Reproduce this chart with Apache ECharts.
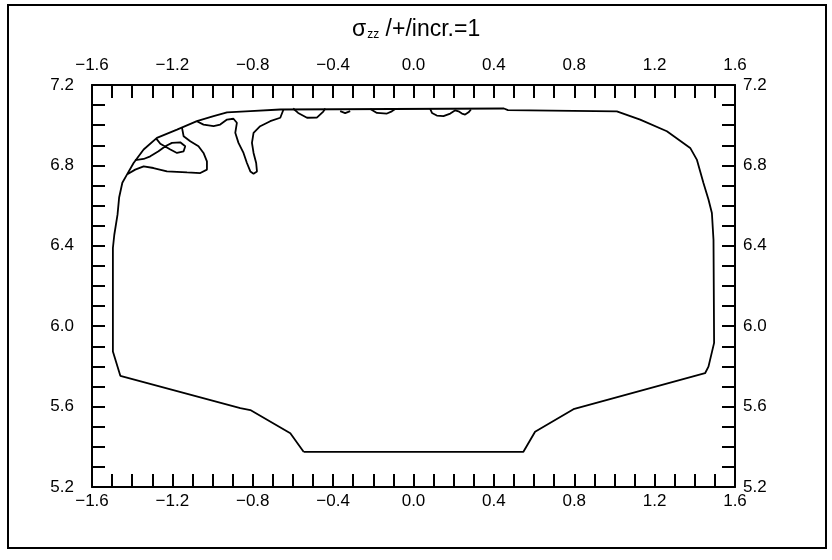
<!DOCTYPE html>
<html>
<head>
<meta charset="utf-8">
<script src="https://cdn.jsdelivr.net/npm/echarts@6/dist/echarts.min.js"></script>
<style>
  html, body { margin: 0; padding: 0; background: #fff; }
  #chart { width: 832px; height: 560px; }
</style>
</head>
<body>
<div id="chart"></div>
<script>
// Axis ranges and labelled tick values
const xRange = [-1.6, 1.6];
const yRange = [5.2, 7.2];
const xLabelValues = [-1.6, -1.2, -0.8, -0.4, 0.0, 0.4, 0.8, 1.2, 1.6];
const yLabelValues = [5.2, 5.6, 6.0, 6.4, 6.8, 7.2];

// Outer boundary contour (closed)
const outerContour = [
  [-0.547, 5.375], [-0.613, 5.467], [-0.812, 5.583], [-0.862, 5.592],
  [-1.459, 5.753], [-1.496, 5.874], [-1.496, 6.389], [-1.489, 6.455],
  [-1.473, 6.555], [-1.465, 6.640], [-1.449, 6.714], [-1.429, 6.749],
  [-1.393, 6.812], [-1.343, 6.879], [-1.277, 6.937], [-1.177, 6.978],
  [-1.078, 7.020], [-0.995, 7.045], [-0.928, 7.064], [-0.812, 7.070],
  [-0.663, 7.078], [0.450, 7.083], [0.470, 7.075], [1.012, 7.069],
  [1.128, 7.028], [1.261, 6.970], [1.377, 6.887], [1.410, 6.829],
  [1.443, 6.713], [1.468, 6.630], [1.485, 6.563], [1.493, 6.430],
  [1.496, 5.917], [1.468, 5.799], [1.451, 5.766], [0.796, 5.587],
  [0.605, 5.475], [0.547, 5.375], [-0.547, 5.375]
];

// Interior contour lines near the upper left
const tongueContour = [
  [-1.078, 7.020], [-1.045, 7.003], [-0.995, 6.995], [-0.962, 7.003],
  [-0.928, 7.028], [-0.896, 7.032], [-0.879, 7.012], [-0.887, 6.962],
  [-0.871, 6.912], [-0.846, 6.862], [-0.829, 6.812], [-0.812, 6.770],
  [-0.796, 6.759], [-0.779, 6.770], [-0.783, 6.812], [-0.796, 6.862],
  [-0.804, 6.912], [-0.796, 6.962], [-0.763, 6.995], [-0.713, 7.020],
  [-0.663, 7.037], [-0.647, 7.078]
];
const loopContour = [
  [-1.152, 6.987], [-1.144, 6.945], [-1.111, 6.920], [-1.070, 6.895],
  [-1.045, 6.862], [-1.028, 6.820], [-1.028, 6.779], [-1.061, 6.762],
  [-1.127, 6.765], [-1.227, 6.770], [-1.294, 6.787], [-1.343, 6.795],
  [-1.385, 6.779], [-1.422, 6.757]
];
const fishContour = [
  [-1.280, 6.933], [-1.260, 6.908], [-1.210, 6.879], [-1.177, 6.862],
  [-1.144, 6.870], [-1.136, 6.895], [-1.161, 6.915], [-1.202, 6.912],
  [-1.235, 6.895], [-1.269, 6.870], [-1.310, 6.845], [-1.343, 6.832],
  [-1.368, 6.829], [-1.386, 6.826]
];

// Small dips along the top edge
const notchA = [[-0.599, 7.083], [-0.574, 7.061], [-0.530, 7.037], [-0.481, 7.038], [-0.449, 7.068], [-0.439, 7.083]];
const notchB = [[-0.365, 7.070], [-0.340, 7.060], [-0.315, 7.070]];
const notchC = [[-0.215, 7.081], [-0.182, 7.061], [-0.132, 7.058], [-0.108, 7.069], [-0.091, 7.081]];
const notchD = [[0.083, 7.081], [0.092, 7.061], [0.116, 7.048], [0.149, 7.045], [0.183, 7.058], [0.208, 7.074],
                [0.224, 7.069], [0.241, 7.058], [0.257, 7.053], [0.274, 7.064], [0.286, 7.078]];

const contours = [outerContour, tongueContour, loopContour, fishContour, notchA, notchB, notchC, notchD];

const FONT = '"Liberation Sans", Arial, Helvetica, sans-serif';

function makeLabel(list) {
  return function (v) {
    for (const t of list) {
      if (Math.abs(v - t) < 1e-6) {
        return t.toFixed(1).replace('-', '\u2212');
      }
    }
    return '';
  };
}

function axisBase(range, list) {
  return {
    type: 'value',
    min: range[0],
    max: range[1],
    interval: 0.1,
    splitLine: { show: false },
    axisLine: { show: true, onZero: false, lineStyle: { color: '#000', width: 2 } },
    axisTick: { show: true, inside: true, length: 13, lineStyle: { color: '#000', width: 2 } },
    axisLabel: {
      color: '#000', fontFamily: FONT, fontSize: 17,
      formatter: makeLabel(list)
    }
  };
}

const xBottom = Object.assign(axisBase(xRange, xLabelValues), { position: 'bottom' });
xBottom.axisLabel.margin = 6;
const xTop = Object.assign(axisBase(xRange, xLabelValues), { position: 'top' });
xTop.axisLabel.margin = 11;
const yLeft = Object.assign(axisBase(yRange, yLabelValues), { position: 'left' });
yLeft.axisLabel.margin = 18;
const yRight = Object.assign(axisBase(yRange, yLabelValues), { position: 'right' });
yRight.axisLabel.margin = 8;

const chart = echarts.init(document.getElementById('chart'), null, { renderer: 'canvas' });
chart.setOption({
  animation: false,
  backgroundColor: '#fff',
  title: {
    text: '{s|\u03c3}{sub|zz}{t| /+/incr.=1}',
    left: 347,
    top: 13,
    textStyle: {
      rich: {
        s: { fontFamily: FONT, fontSize: 23, fontWeight: 'normal', color: '#000' },
        sub: { fontFamily: FONT, fontSize: 12, fontWeight: 'normal', color: '#000', padding: [10, 0, 0, 1] },
        t: { fontFamily: FONT, fontSize: 23, fontWeight: 'normal', color: '#000' }
      }
    }
  },
  grid: { left: 92, top: 85, right: 97, bottom: 73 },
  xAxis: [xBottom, xTop],
  yAxis: [yLeft, yRight],
  graphic: [{
    type: 'rect',
    shape: { x: 8, y: 5, width: 818, height: 543 },
    style: { fill: 'none', stroke: '#000', lineWidth: 2 },
    silent: true
  }],
  series: contours.map(function (c) {
    return {
      type: 'line',
      xAxisIndex: 0,
      yAxisIndex: 0,
      data: c,
      showSymbol: false,
      smooth: false,
      lineStyle: { color: '#000', width: 1.8 },
      silent: true
    };
  })
});
</script>
</body>
</html>
